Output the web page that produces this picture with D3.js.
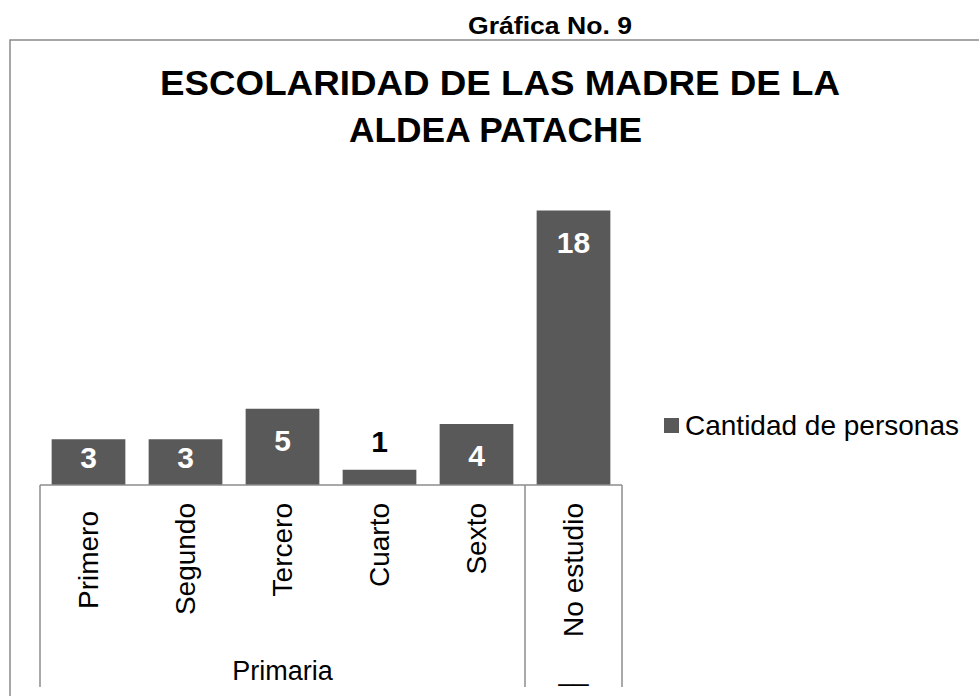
<!DOCTYPE html>
<html>
<head>
<meta charset="utf-8">
<script src="https://cdn.jsdelivr.net/npm/d3@7"></script>
<style>
  body { margin: 0; background: #fff; }
  text { font-family: "Liberation Sans", Arial, sans-serif; }
</style>
</head>
<body>
<div id="chart"></div>
<script>
// chart data
let categories = ["Primero", "Segundo", "Tercero", "Cuarto", "Sexto", "No estudio"];
let values = [3, 3, 5, 1, 4, 18];
let groupNames = ["Primaria", "__"];
let groupSizes = [5, 1];
let seriesName = "Cantidad de personas";

let width = 979,
    height = 696;

let svg = d3.select("#chart")
    .append("svg")
    .attr("width", width)
    .attr("height", height);

// outer frame (runs off the right and bottom edge)
svg.append("rect")
    .attr("x", 10).attr("y", 40)
    .attr("width", 1000).attr("height", 700)
    .attr("fill", "none")
    .attr("stroke", "#8a8a8a")
    .attr("stroke-width", 1.5);

// heading above the frame
svg.append("text")
    .attr("x", 468).attr("y", 34)
    .attr("textLength", 164)
    .attr("lengthAdjust", "spacingAndGlyphs")
    .style("font-size", "24px")
    .style("font-weight", "bold")
    .text("Gráfica No. 9");

// chart title, two lines
let titleLines = [
    {text: "ESCOLARIDAD DE LAS MADRE DE LA", x: 160, y: 95, len: 680},
    {text: "ALDEA PATACHE", x: 349, y: 142, len: 293}
];
svg.selectAll(".title")
    .data(titleLines)
    .enter()
    .append("text")
    .attr("class", "title")
    .attr("x", d => d.x)
    .attr("y", d => d.y)
    .attr("textLength", d => d.len)
    .attr("lengthAdjust", "spacingAndGlyphs")
    .style("font-size", "35px")
    .style("font-weight", "bold")
    .text(d => d.text);

// scales
let x = d3.scaleBand()
    .domain(categories)
    .range([40, 622])
    .paddingInner(0.24)
    .paddingOuter(0.12);

let y = d3.scaleLinear()
    .domain([0, 20])
    .range([485, 180]);

let data = categories.map((c, i) => ({name: c, value: values[i]}));

// bars
svg.selectAll(".bar")
    .data(data)
    .enter()
    .append("rect")
    .attr("class", "bar")
    .attr("x", d => x(d.name))
    .attr("y", d => y(d.value))
    .attr("width", x.bandwidth())
    .attr("height", d => y(0) - y(d.value))
    .attr("fill", "#595959");

// value labels: inside end, or above the bar when it is too short
svg.selectAll(".val")
    .data(data)
    .enter()
    .append("text")
    .attr("class", "val")
    .attr("x", d => x(d.name) + x.bandwidth() / 2)
    .attr("y", function(d) {
        let h = y(0) - y(d.value);
        if (h < 30) return y(d.value) - 18;
        return Math.min(y(d.value) + 42, y(0) - 17);
    })
    .attr("text-anchor", "middle")
    .style("font-size", "30px")
    .style("font-weight", "bold")
    .attr("fill", d => (y(0) - y(d.value) < 30) ? "#000" : "#fff")
    .text(d => d.value);

// category axis
let base = y(0);
let axisBottom = 687;
let half = x.step() * x.paddingInner() / 2;

svg.append("line")
    .attr("x1", x.range()[0]).attr("x2", x.range()[1])
    .attr("y1", base).attr("y2", base)
    .attr("stroke", "#8c8c8c").attr("stroke-width", 1.5);

// group boundaries
let bounds = [x.range()[0]];
let idx = 0;
groupSizes.forEach(n => {
    idx += n;
    if (idx < categories.length) bounds.push(x(categories[idx]) - half);
    else bounds.push(x.range()[1]);
});

svg.selectAll(".sep")
    .data(bounds)
    .enter()
    .append("line")
    .attr("class", "sep")
    .attr("x1", d => d).attr("x2", d => d)
    .attr("y1", base).attr("y2", axisBottom)
    .attr("stroke", "#8c8c8c").attr("stroke-width", 1.5);

// rotated category labels
svg.selectAll(".cat")
    .data(categories)
    .enter()
    .append("text")
    .attr("class", "cat")
    .attr("transform", (d, i) => `translate(${x(d) + x.bandwidth() / 2}, ${base + (i === 0 ? 26 : 18)}) rotate(-90)`)
    .attr("text-anchor", "end")
    .attr("dy", "0.35em")
    .style("font-size", "28px")
    .text(d => d);

// group labels
svg.selectAll(".grp")
    .data(groupNames)
    .enter()
    .append("text")
    .attr("class", "grp")
    .attr("x", (d, i) => (bounds[i] + bounds[i + 1]) / 2)
    .attr("y", 680)
    .attr("text-anchor", "middle")
    .style("font-size", "27px")
    .text(d => d);

// legend
svg.append("rect")
    .attr("x", 664).attr("y", 418)
    .attr("width", 15).attr("height", 15)
    .attr("fill", "#595959");
svg.append("text")
    .attr("x", 685).attr("y", 435)
    .style("font-size", "28px")
    .text(seriesName);
</script>
</body>
</html>
